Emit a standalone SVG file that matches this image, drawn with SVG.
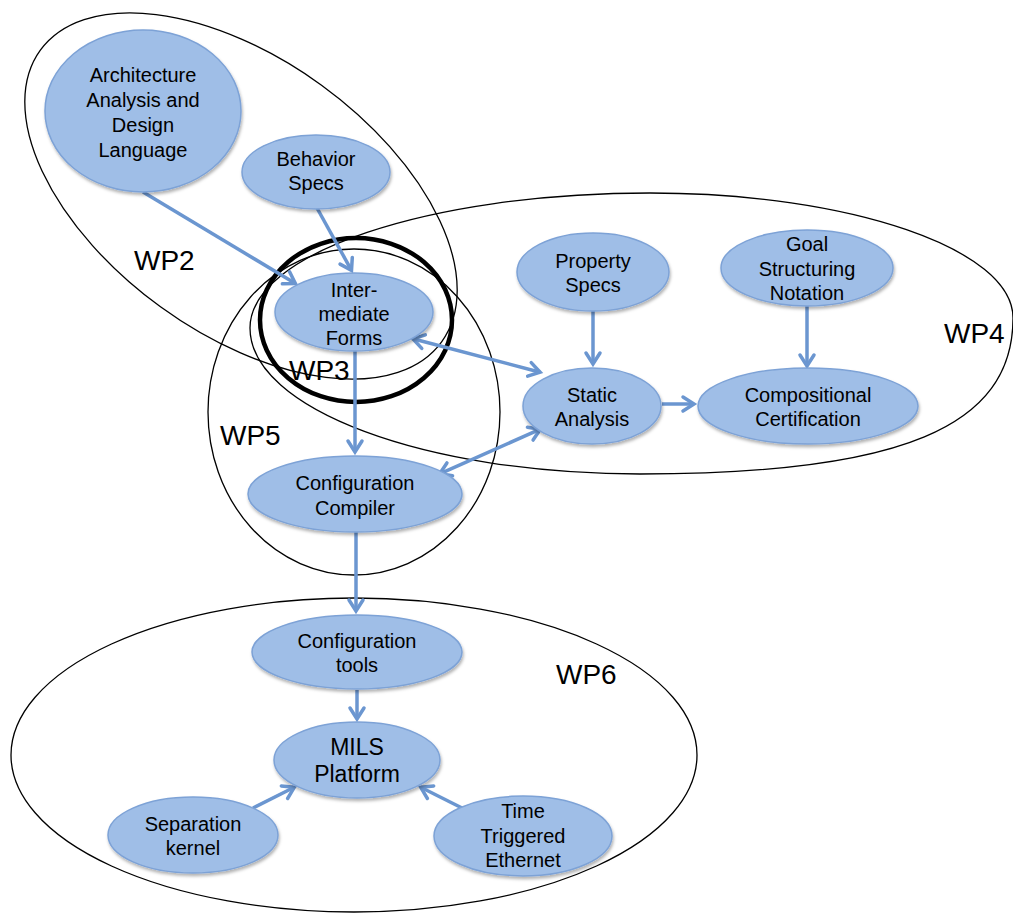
<svg xmlns="http://www.w3.org/2000/svg" width="1013" height="914" viewBox="0 0 1013 914">
<style>
.wp{fill:none;stroke:#000;stroke-width:1.3}
.wp3{fill:none;stroke:#000;stroke-width:4.5}
.nd{fill:#9fbee7;stroke:#7da2d6;stroke-width:1.5;filter:url(#sh)}
.t{font-family:"Liberation Sans",Arial,sans-serif;font-size:20px;fill:#000;text-anchor:middle}
.tb{font-family:"Liberation Sans",Arial,sans-serif;font-size:23px;fill:#000;text-anchor:middle}
.lb{font-family:"Liberation Sans",Arial,sans-serif;font-size:28px;fill:#000}
.c{fill:none;stroke:#6b96d0;stroke-width:3.5}
.a{marker-end:url(#ah)}
.d{marker-start:url(#ah);marker-end:url(#ah)}
</style>
<defs>
<filter id="sh" x="-10%" y="-10%" width="125%" height="135%">
<feDropShadow dx="1" dy="2.5" stdDeviation="1.5" flood-color="#000" flood-opacity="0.3"/>
</filter>
<marker id="ah" viewBox="-14 -9 19 18" markerWidth="19" markerHeight="18" refX="0" refY="0" orient="auto-start-reverse" markerUnits="userSpaceOnUse" overflow="visible">
<path d="M-11,-7 L0,0 L-11,7" fill="none" stroke="#6b96d0" stroke-width="3.5" stroke-linecap="round"/>
</marker>
</defs>
<rect width="1013" height="914" fill="#fff"/>

<g id="containers">
<g id="wp2"><ellipse class="wp" cx="241" cy="196" rx="248" ry="137" transform="rotate(36 241 196)"/></g>
<g id="wp4"><path class="wp" d="M250,328 C250,253 429,193 650,193 C850,193 1013,249 1013,318 C1013,427 901,474 640,474 C425,474 250,409 250,328 Z"/></g>
<g id="wp5"><ellipse class="wp" cx="354" cy="412" rx="146" ry="163"/></g>
<g id="wp3"><ellipse class="wp3" cx="356" cy="320" rx="96" ry="82"/></g>
<g id="wp6"><ellipse class="wp" cx="354" cy="755" rx="343" ry="157"/></g>
</g>

<g id="connectors">
<line class="c a" x1="143" y1="192" x2="295.4" y2="283.5"/>
<line class="c a" x1="317" y1="208" x2="351.5" y2="270.4"/>
<line class="c d" x1="412.9" y1="338.8" x2="540.1" y2="372.2"/>
<line class="c a" x1="355" y1="350" x2="355" y2="452"/>
<line class="c d" x1="540.3" y1="429.2" x2="439.7" y2="473.8"/>
<line class="c a" x1="593" y1="311" x2="593" y2="364"/>
<line class="c a" x1="807" y1="306" x2="807" y2="366"/>
<line class="c a" x1="662" y1="404" x2="694" y2="404"/>
<line class="c a" x1="356" y1="532" x2="356" y2="611"/>
<line class="c a" x1="357" y1="690" x2="357" y2="719"/>
<line class="c a" x1="253" y1="808" x2="294.3" y2="787.3"/>
<line class="c a" x1="462" y1="808" x2="420.7" y2="787.3"/>
</g>

<g id="aadl"><ellipse class="nd" cx="143" cy="111" rx="98" ry="81"/>
<text class="t" x="143" y="82">Architecture</text><text class="t" x="143" y="107">Analysis and</text><text class="t" x="143" y="132">Design</text><text class="t" x="143" y="157">Language</text></g>
<g id="behavior"><ellipse class="nd" cx="316" cy="172" rx="74" ry="37"/>
<text class="t" x="316" y="166">Behavior</text><text class="t" x="316" y="190">Specs</text></g>
<g id="intermediate"><ellipse class="nd" cx="354" cy="312" rx="79" ry="39"/>
<text class="t" x="354" y="297">Inter-</text><text class="t" x="354" y="321">mediate</text><text class="t" x="354" y="345">Forms</text></g>
<g id="property"><ellipse class="nd" cx="593" cy="272" rx="76" ry="39"/>
<text class="t" x="593" y="268">Property</text><text class="t" x="593" y="292">Specs</text></g>
<g id="goal"><ellipse class="nd" cx="807" cy="268" rx="86" ry="38"/>
<text class="t" x="807" y="251">Goal</text><text class="t" x="807" y="276">Structuring</text><text class="t" x="807" y="300">Notation</text></g>
<g id="static"><ellipse class="nd" cx="592" cy="406" rx="69" ry="38"/>
<text class="t" x="592" y="402">Static</text><text class="t" x="592" y="426">Analysis</text></g>
<g id="compositional"><ellipse class="nd" cx="808" cy="406" rx="110" ry="38"/>
<text class="t" x="808" y="402">Compositional</text><text class="t" x="808" y="426">Certification</text></g>
<g id="compiler"><ellipse class="nd" cx="355" cy="494" rx="107" ry="38"/>
<text class="t" x="355" y="490">Configuration</text><text class="t" x="355" y="515">Compiler</text></g>
<g id="tools"><ellipse class="nd" cx="357" cy="652" rx="105" ry="37"/>
<text class="t" x="357" y="648">Configuration</text><text class="t" x="357" y="672">tools</text></g>
<g id="mils"><ellipse class="nd" cx="357" cy="760" rx="83" ry="38"/>
<text class="tb" x="357" y="755">MILS</text><text class="tb" x="357" y="782">Platform</text></g>
<g id="separation"><ellipse class="nd" cx="193" cy="835" rx="85" ry="38"/>
<text class="t" x="193" y="831">Separation</text><text class="t" x="193" y="855">kernel</text></g>
<g id="tte"><ellipse class="nd" cx="523" cy="836" rx="89" ry="40"/>
<text class="t" x="523" y="818">Time</text><text class="t" x="523" y="843">Triggered</text><text class="t" x="523" y="867">Ethernet</text></g>

<g id="labels">
<text class="lb" x="134" y="270">WP2</text>
<text class="lb" x="289" y="380">WP3</text>
<text class="lb" x="944" y="343">WP4</text>
<text class="lb" x="220" y="445">WP5</text>
<text class="lb" x="556" y="684">WP6</text>
</g>
</svg>
